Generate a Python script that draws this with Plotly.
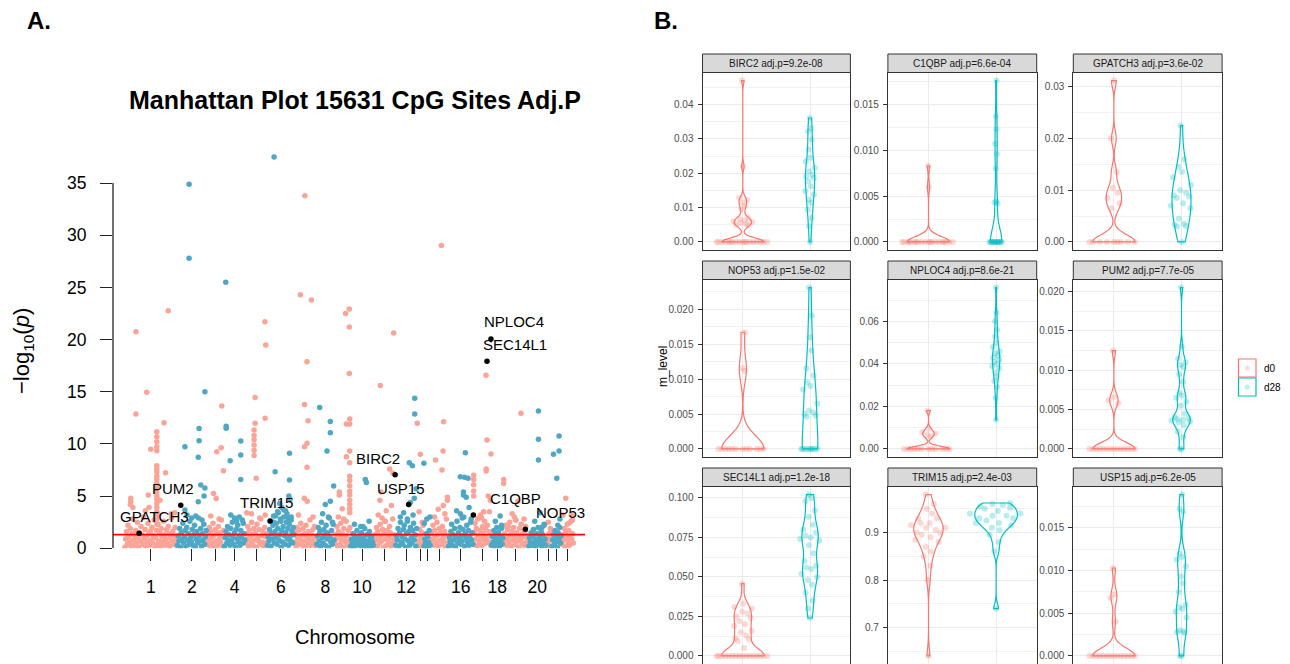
import numpy as np
import plotly.graph_objects as go

# the page body adds an 8px offset; the figure is laid out in reference-pixel coordinates
OFF = 8
W, H = 1290 - OFF, 664 - OFF
def fx(p): return (p - OFF) / W
def fy(p): return 1 - (p - OFF) / H

FONT = "Liberation Sans, Arial, Helvetica, sans-serif"

# ================= Panel A data =================
chrom_len_mb = [252, 142, 84, 101, 106, 130, 106, 86, 77, 112, 104, 104, 32, 32, 86, 120, 86, 58, 121, 85, 26, 48, 58]
chrom_tick_text = ["1", "2", "", "4", "", "6", "", "8", "", "10", "", "12", "", "", "", "16", "", "18", "", "20", "", "", ""]
sig_p = 0.05

# significant / visible individual sites per chromosome: "pos_mb/-log10p"
top_hits = [
    "55/20.75 55/12.86 107/14.94 210/22.76 190/12.03 126/9.48 114/5.1 197/7.24 155/11.17 155/10.7 155/10.2 155/9.73 155/9.35 155/7.9 155/7.6 155/7.3 155/6.9 155/6.6 155/6.2 155/5.8 155/5.4 155/5.0 155/4.7 155/4.3 155/3.9 155/3.5 155/3.1 155/2.8 155/2.3 30/4.8 30/4.5 28/4.2 40/3.9 100/3.6 118/3.9 170/4.6 160/3.3 226/2.9 240/3.4",
    "58/34.87 58/27.8 134/15.0 106/11.49 106/10.31 102/8.72 38/9.73 114/6.06 134/5.77 130/5.0 102/4.47 38/3.66 48/3.2 70/2.9 90/3.1 120/2.7",
    "73/13.63 70/9.64 49/9.26 81/7.44 33/5.26 46/4.78 20/3.1 60/2.8",
    "8/25.5 10/11.7 10/11.5 80/10.28 80/8.94 29/8.4 80/6.6 32/3.2 73/3.0 92/2.4 50/2.9 60/2.6",
    "95/21.7 99/19.47 48/14.46 96/12.45 48/11.97 43/11.33 43/10.8 43/10.4 43/9.9 43/9.4 43/8.9 53/6.7 8/3.41 96/3.19 70/2.9 30/3.3",
    "33/37.5 38/7.34 107/9.1 107/6.54 104/5.0 110/4.7 60/4.3 70/3.9 88/3.6 50/3.5 95/3.3 40/3.1 80/3.0 100/2.9 115/2.7 66/2.6 30/2.5",
    "51/33.77 29/24.3 82/23.78 61/17.88 49/13.79 66/12.22 61/10.06 49/9.73 61/7.76 48/4.8 62/4.5 20/3.2 90/3.0",
    "16/13.5 67/12.16 67/11.07 51/9.32 83/5.97 67/4.5 43/4.2 58/3.0 77/2.5 30/3.3",
    "54/22.5 72/22.92 72/21.2 72/16.76 58/11.9 74/11.9 74/12.4 74/9.32 58/8.78 74/8.2 74/6.9 74/6.5 74/6.0 74/5.5 74/5.1 74/4.6 74/4.2 74/3.8 74/3.4 24/5.4 24/5.1 19/3.0 38/3.8 45/2.8",
    "72/6.6 77/6.3 50/2.1 60/2.1 90/2.6 20/2.3",
    "96/20.62 32/15.6 77/7.6 93/7.2 22/3.2 40/2.9 56/2.6 35/5.4 30/4.6 60/3.6 85/4.1",
    "93/14.37 93/12.86 67/8.2 82/7.9 91/4.79 72/4.4 24/3.0 58/2.6 100/5.7 40/3.4 85/3.2",
    "1/11.97 16/9.0 10/3.5 25/2.5",
    "1/8.14 30/3.0 3/2.4 15/2.8",
    "53/29.02 64/12.13 61/9.32 25/8.46 56/7.5 38/3.75 62/4.1 82/4.9 82/4.6 70/3.3 20/3.0",
    "82/9.16 58/6.86 78/6.8 95/6.7 73/5.4 73/5.1 86/4.9 58/3.3 67/2.9 40/3.6 100/3.9 110/2.8",
    "61/16.57 66/10.37 85/9.03 62/7.6 62/7.4 2/7.0 2/6.6 2/6.1 72/5.0 82/4.6 2/5.5 2/5.0 30/3.0 50/3.5 40/2.9",
    "43/3.1 20/2.6 50/2.2",
    "85/12.93 2/6.6 2/6.2 43/3.3 53/3.0 14/2.1 24/2.1 70/4.5 100/2.8 60/2.7",
    "48/13.15 48/10.44 48/8.46 56/3.4 64/2.0 30/2.6 75/2.3",
    "10/2.5 20/1.9",
    "36/10.76 36/9.32 9/9.0 25/6.7 30/2.2 40/2.8",
    "20/4.79 7/3.2 47/3.2 35/2.4 52/2.7",
]

# dense background band of non-significant sites (in genomic order)
band_logp = [
    "0.1 0.9 1.6 0.4 2.2 1.1 0.6 1.9 0.2 1.4 2.8 0.8 0.3 1.2 1.7 0.5 2.5 1.0 0.1 1.5 0.7 2.1 1.3 0.4 3.0 0.9 1.8 0.2 1.1 0.6 2.4 1.4 0.3 1.6 0.8 2.0 0.5 1.2 2.7 0.1 1.0 1.7 0.4 2.3 0.7 1.5 0.2 1.9 1.1 0.6 2.6 1.3 0.3 0.9 1.8 0.5 2.1 1.4 0.2 1.0 3.3 0.7 1.6 0.4 1.2 2.0 0.8 0.3",
    "0.3 1.2 0.7 1.9 0.1 1.5 0.9 2.4 0.5 1.1 1.7 0.2 2.0 0.8 1.4 0.4 2.6 1.0 0.6 1.8 0.3 1.3 2.2 0.1 0.9 1.6 0.5 2.9 1.2 0.7 1.9 0.2 1.4 0.8 2.3 0.4 1.1 1.7",
    "0.4 1.3 0.8 2.0 0.2 1.6 1.0 0.5 2.4 1.2 0.1 1.8 0.7 1.4 0.3 2.1 0.9 1.5 0.6 2.7 1.1 0.2 1.7",
    "0.2 1.0 1.6 0.5 2.1 0.8 1.3 0.3 1.9 0.7 2.5 1.1 0.4 1.5 0.1 1.8 0.9 2.2 0.6 1.2 0.3 1.7 1.0 2.7 0.5 1.4 0.8",
    "0.5 1.4 0.9 2.1 0.2 1.7 1.1 0.6 2.5 1.3 0.3 1.9 0.8 1.5 0.1 2.3 1.0 0.7 1.8 0.4 2.8 1.2 0.6 1.6 0.2 2.0 1.1 0.5 1.4",
    "0.3 1.1 0.7 1.8 2.6 0.2 1.4 0.9 2.2 3.1 0.5 1.6 1.0 2.4 0.4 1.9 3.4 0.8 1.3 2.8 0.1 1.7 0.6 2.1 3.7 1.2 0.4 1.5 2.5 0.9 1.9 0.3 2.3 1.1 0.7 3.0 1.6 0.5 2.0 1.3",
    "0.6 1.5 0.2 2.0 1.0 0.4 1.7 0.8 2.4 1.2 0.3 1.9 0.7 1.4 0.1 2.2 1.1 0.5 1.6 0.9 2.7 0.3 1.3 0.8 1.8 0.5 2.1 1.0 0.2",
    "0.4 1.2 2.0 0.7 1.6 0.2 2.5 1.0 0.5 1.8 1.3 0.3 2.2 0.9 1.5 0.1 2.9 1.1 0.6 1.7 0.4 2.3 0.8",
    "0.5 1.3 0.9 2.1 0.2 1.6 1.1 0.4 2.4 0.8 1.4 0.1 1.9 1.0 0.6 2.6 1.2 0.3 1.7 0.7 2.0",
    "0.2 0.9 0.5 1.4 0.1 1.1 0.7 0.3 1.7 0.9 0.4 1.2 0.6 0.2 1.5 0.8 0.3 1.0 1.9 0.5 0.1 1.3 0.7 0.4 1.6 0.9 0.2 1.1 0.6 0.3",
    "0.4 1.3 0.8 2.0 0.2 1.6 1.0 0.5 2.3 1.2 0.7 1.8 0.1 1.4 2.6 0.9 0.3 1.7 1.1 0.6 2.1 1.5 0.2 1.0 2.8 0.5 1.3 0.8",
    "0.3 1.2 0.8 1.9 0.2 1.5 2.5 0.6 1.1 0.4 1.8 2.2 0.9 0.1 1.4 2.8 0.7 1.6 0.3 2.0 1.0 0.5 1.7 2.4 0.8 1.3 0.2 1.9",
    "0.3 1.2 0.7 1.8 0.2 1.0 1.5 0.5 2.2",
    "0.2 0.9 0.5 1.4 0.1 1.1 0.6 1.7 0.3",
    "0.5 1.4 0.9 2.2 0.3 1.7 1.1 0.6 2.5 1.3 0.2 1.9 0.8 1.5 0.4 2.1 1.0 0.7 1.6 0.1 2.8 1.2 0.5",
    "0.2 1.0 0.6 1.6 2.3 0.3 1.3 0.8 1.9 0.1 1.1 2.6 0.5 1.5 0.9 2.0 0.4 1.2 0.7 1.8 3.0 0.2 1.4 1.0 2.2 0.6 1.7 0.3 1.1 2.5 0.8 1.5 0.4",
    "0.4 1.5 2.4 0.9 1.9 0.2 2.8 1.2 0.6 1.7 3.2 1.0 0.3 2.1 1.4 0.8 2.6 1.8 0.5 1.1 2.2 0.7 1.6 3.5 1.3 0.3",
    "0.3 1.1 0.6 1.7 0.2 1.3 0.9 2.0 0.5 1.5 0.1 1.2 0.8 1.9 0.4 1.0",
    "0.5 1.4 0.9 2.2 0.3 1.8 1.1 0.6 2.5 1.3 0.2 1.6 0.8 2.0 1.0 0.4 2.7 1.5 0.7 1.2 0.1 1.9 0.9 2.3 0.5 1.4 1.1 0.3 1.7 2.1 0.6 1.2 0.8",
    "0.2 1.0 0.6 1.5 0.3 1.2 1.8 0.5 0.9 0.1 1.4 0.7 2.0 0.4 1.1 0.8 1.6 0.2 1.3 0.6 2.2 0.9 0.3",
    "0.3 1.0 0.6 1.4 0.2 0.9 1.7",
    "0.2 0.8 1.3 0.4 1.7 0.6 1.1 0.1 1.5 0.9 2.0 0.5 1.2",
    "0.4 1.3 0.8 1.9 0.2 1.5 1.0 2.3 0.6 1.7 0.3 1.2 2.6 0.9 1.4 0.5",
]

# ================= Genes (shared by A and B) =================
genes = ["BIRC2", "C1QBP", "GPATCH3", "NOP53", "NPLOC4", "PUM2", "SEC14L1", "TRIM15", "USP15"]
gene_adj_p = [9.2e-08, 6.6e-04, 3.6e-02, 1.5e-02, 8.6e-21, 7.7e-05, 1.2e-18, 2.4e-03, 6.2e-05]
gene_chr = [11, 17, 1, 19, 17, 2, 17, 6, 12]
gene_pos_mb = [103, 0.5, 70, 106, 85, 18, 66, 14, 64]

# ================= Panel B data (methylation level per sample) =================
birc2_d0 = [0, 0, 0, 0, 0, 0, 0, 0, 0, 0, 0, 0, 0, 0, 0, 0, 0, 0,
            0.0048, 0.005, 0.0052, 0.0055, 0.0058, 0.006, 0.0063, 0.0066, 0.007, 0.0095, 0.0105, 0.0115, 0.0122, 0.0128, 0.022, 0.047]
birc2_d28 = [0.0, 0.0046, 0.007, 0.0094, 0.0114, 0.0123, 0.0138, 0.0148, 0.0162, 0.0177, 0.0186, 0.0191, 0.0196, 0.0206, 0.0216, 0.0235, 0.0245, 0.0269, 0.0298, 0.0322, 0.0332, 0.0361]
c1qbp_d0 = [0, 0, 0, 0, 0, 0, 0, 0, 0, 0, 0, 0, 0, 0, 0, 0, 0, 0, 0, 0, 0.006, 0.0083]
c1qbp_d28 = [0, 0, 0, 0, 0, 0, 0, 0, 0, 0, 0, 0, 0, 0, 0.0042, 0.0043, 0.0044, 0.008, 0.0096, 0.0107, 0.0123, 0.0137, 0.0176]
gpatch3_d0 = [0, 0, 0, 0, 0, 0, 0, 0, 0, 0.0065, 0.0075, 0.0085, 0.0095, 0.0105, 0.0135, 0.02, 0.0312]
gpatch3_d28 = [0.0, 0.003, 0.0031, 0.0033, 0.0035, 0.0045, 0.0065, 0.007, 0.0075, 0.0085, 0.0088, 0.009, 0.0095, 0.01, 0.011, 0.0125, 0.0135, 0.0145, 0.016, 0.0225]
nop53_d0 = [0, 0, 0, 0, 0, 0, 0, 0, 0, 0, 0, 0, 0.0112, 0.0116, 0.0167]
nop53_d28 = [0, 0, 0, 0, 0, 0, 0, 0, 0, 0.0046, 0.0048, 0.005, 0.0052, 0.0055, 0.0065, 0.0085, 0.009, 0.0095, 0.0105, 0.0115, 0.0141, 0.016, 0.0191, 0.0231]
nploc4_d0 = [0, 0, 0, 0, 0, 0, 0, 0, 0, 0, 0, 0, 0.0058, 0.0065, 0.0072, 0.008, 0.0095, 0.018]
nploc4_d28 = [0.0137, 0.024, 0.029, 0.032, 0.034, 0.036, 0.038, 0.039, 0.04, 0.041, 0.042, 0.043, 0.044, 0.045, 0.046, 0.048, 0.05, 0.053, 0.056, 0.06, 0.064, 0.0759]
pum2_d0 = [0, 0, 0, 0, 0, 0, 0, 0, 0, 0, 0, 0, 0, 0, 0.0058, 0.0062, 0.0066, 0.0125]
pum2_d28 = [0, 0, 0.0015, 0.0022, 0.003, 0.0034, 0.0035, 0.0036, 0.0037, 0.0038, 0.0039, 0.004, 0.0045, 0.0055, 0.006, 0.0065, 0.0068, 0.0071, 0.0085, 0.0095, 0.0104, 0.0107, 0.011, 0.0115, 0.013, 0.0205]
sec14l1_d0 = [0, 0, 0, 0, 0, 0, 0, 0, 0, 0, 0, 0, 0, 0, 0, 0,
              0.005, 0.0095, 0.0105, 0.011, 0.013, 0.015, 0.016, 0.019, 0.02, 0.022, 0.024, 0.025, 0.027, 0.028, 0.03, 0.031, 0.033, 0.0457]
sec14l1_d28 = [0.024, 0.03, 0.035, 0.04, 0.045, 0.048, 0.05, 0.052, 0.055, 0.056, 0.057, 0.06, 0.065, 0.07, 0.073, 0.074, 0.075, 0.076, 0.078, 0.08, 0.083, 0.088, 0.092, 0.098, 0.1, 0.1021]
trim15_d0 = [0.6406, 0.8, 0.83, 0.85, 0.86, 0.87, 0.88, 0.885, 0.89, 0.895, 0.9, 0.9, 0.905, 0.91, 0.91, 0.915, 0.92, 0.92, 0.93, 0.93, 0.94, 0.95, 0.96, 0.9797]
trim15_d28 = [0.7399, 0.86, 0.88, 0.895, 0.905, 0.91, 0.915, 0.92, 0.92, 0.925, 0.93, 0.93, 0.935, 0.935, 0.94, 0.94, 0.945, 0.95, 0.952, 0.955, 0.958, 0.96, 0.962]
usp15_d0 = [0, 0, 0, 0, 0, 0, 0, 0, 0, 0, 0, 0, 0, 0, 0.004, 0.0068, 0.0072, 0.0103]
usp15_d28 = [0.0, 0.0, 0.0027, 0.0028, 0.0029, 0.003, 0.0045, 0.0052, 0.0055, 0.0057, 0.006, 0.0075, 0.0085, 0.0093, 0.0105, 0.0113, 0.0116, 0.012, 0.0169, 0.0172, 0.0189]

group_names = ["d0", "d28"]
panel_data = [
    (birc2_d0, birc2_d28), (c1qbp_d0, c1qbp_d28), (gpatch3_d0, gpatch3_d28),
    (nop53_d0, nop53_d28), (nploc4_d0, nploc4_d28), (pum2_d0, pum2_d28),
    (sec14l1_d0, sec14l1_d28), (trim15_d0, trim15_d28), (usp15_d0, usp15_d28),
]
tick_step = [0.01, 0.005, 0.01, 0.005, 0.02, 0.005, 0.025, 0.1, 0.005]
tick_dec = [2, 3, 2, 3, 2, 3, 3, 1, 3]

# ================= Styles =================
PINK = "#FBA396"
BLUE = "#4EA8C5"
GROUP_COL = ["#F8766D", "#00BFC4"]
GROUP_RGBA = ["rgba(248,118,109,{a})", "rgba(0,191,196,{a})"]
# kernel bandwidth (smoothing) per panel violin (d0, d28)
kde_bw = [(0.0011, 0.0036), (0.0006, 0.0015), (0.0014, 0.0032), (0.0019, 0.0028), (0.0012, 0.004),
          (0.0008, 0.0008), (0.0045, 0.007), (0.018, 0.011), (0.0009, 0.0012)]
label_shift = {"BIRC2": (-17, 16), "C1QBP": (42, 17), "GPATCH3": (15, 17), "NOP53": (35, 17),
               "NPLOC4": (23, 17), "PUM2": (-8, 17), "SEC14L1": (28, 17), "TRIM15": (-4, 18), "USP15": (-8, 16)}
TICK_STYLE = dict(ticks="outside", ticklen=12, tickwidth=1.3, tickcolor="#222222")

fig = go.Figure()
shapes = []
annotations = []

# ================= Panel A: Manhattan =================
lens = np.array(chrom_len_mb, float)
starts = np.concatenate([[0.0], np.cumsum(lens)[:-1]])
centers = starts + lens / 2

for parity, col in ((1, PINK), (0, BLUE)):
    xs, ys = [], []
    for i in range(len(chrom_len_mb)):
        if (i + 1) % 2 != parity:
            continue
        band = [float(v) for v in band_logp[i].split()]
        n = len(band)
        xs += list(starts[i] + (np.arange(n) + 0.5) / n * lens[i])
        ys += band
        for tok in top_hits[i].split():
            p, l = tok.split("/")
            xs.append(starts[i] + float(p))
            ys.append(float(l))
    fig.add_trace(go.Scatter(x=xs, y=ys, mode="markers", xaxis="x", yaxis="y",
                             marker=dict(color=col, size=5.5, line=dict(width=0)),
                             showlegend=False, hoverinfo="skip"))

x_range = [-55.2, 2210.4]
thr = -np.log10(sig_p)
fig.add_trace(go.Scatter(x=x_range, y=[thr, thr], mode="lines", xaxis="x", yaxis="y",
                         line=dict(color="#FF0000", width=1.8), showlegend=False, hoverinfo="skip"))

g_x = [starts[c - 1] + p for c, p in zip(gene_chr, gene_pos_mb)]
g_y = [-np.log10(p) for p in gene_adj_p]
fig.add_trace(go.Scatter(x=g_x, y=g_y, mode="markers", xaxis="x", yaxis="y",
                         marker=dict(color="black", size=5.5), showlegend=False, hoverinfo="skip"))
for g, xv, yv in zip(genes, g_x, g_y):
    dx, dy = label_shift[g]
    annotations.append(dict(x=xv, y=yv, xref="x", yref="y", text=g, showarrow=False,
                            xshift=dx, yshift=dy, xanchor="center", yanchor="middle",
                            font=dict(size=15, color="black", family=FONT)))

# tick marks for every chromosome on an overlaid axis (no labels)
fig.add_trace(go.Scatter(x=[], y=[], xaxis="x11", yaxis="y", showlegend=False, hoverinfo="skip"))

shapes.append(dict(type="line", xref="paper", yref="y", x0=fx(113), x1=fx(113), y0=0, y1=35,
                   line=dict(color="#222222", width=1.3)))

lab_idx = [i for i, t in enumerate(chrom_tick_text) if t]
layout_axes = {}
layout_axes["xaxis"] = dict(domain=[fx(113), fx(585)], range=x_range, anchor="y",
                            tickvals=[centers[i] for i in lab_idx],
                            ticktext=[chrom_tick_text[i] for i in lab_idx], **TICK_STYLE,
                            showline=False, showgrid=False, zeroline=False,
                            tickfont=dict(size=17.5, color="black"),
                            ticklabelstandoff=11, automargin=False, fixedrange=True)
layout_axes["xaxis11"] = dict(domain=[fx(113), fx(585)], range=x_range, anchor="y", overlaying="x",
                              side="bottom", tickvals=list(centers), showticklabels=False,
                              **TICK_STYLE, showline=False, showgrid=False, zeroline=False,
                              automargin=False, fixedrange=True)
layout_axes["yaxis"] = dict(domain=[fy(548.3), fy(151.7)], range=[0, 38], anchor="x",
                            tickvals=[0, 5, 10, 15, 20, 25, 30, 35], **TICK_STYLE,
                            showline=False, showgrid=False,
                            zeroline=False, tickfont=dict(size=17.5, color="black"),
                            ticklabelstandoff=10, automargin=False, fixedrange=True)

annotations += [
    dict(x=fx(25), y=fy(20.5), xref="paper", yref="paper", text="<b>A.</b>", showarrow=False,
         xanchor="left", yanchor="middle", height=22, valign="middle",
         font=dict(size=24, color="black", family=FONT)),
    dict(x=fx(652), y=fy(20), xref="paper", yref="paper", text="<b>B.</b>", showarrow=False,
         xanchor="left", yanchor="middle", height=22, valign="middle",
         font=dict(size=24, color="black", family=FONT)),
    dict(x=fx(355), y=fy(100), xref="paper", yref="paper",
         text="<b>Manhattan Plot 15631 CpG Sites Adj.P</b>", showarrow=False,
         xanchor="center", yanchor="middle", font=dict(size=25, color="black", family=FONT)),
    dict(x=fx(355), y=fy(637), xref="paper", yref="paper", text="Chromosome", showarrow=False,
         xanchor="center", yanchor="middle", font=dict(size=20, color="black", family=FONT)),
    dict(x=fx(23), y=fy(351), xref="paper", yref="paper",
         text="\u2212log<sub>10</sub>(<i>p</i>)", showarrow=False, textangle=-90,
         xanchor="center", yanchor="middle", font=dict(size=22, color="black", family=FONT)),
]

# ================= Panel B: violins with sina-style points =================
def kde(vals, bw, ys):
    v = np.asarray(vals, float)
    z = (np.asarray(ys, float)[:, None] - v[None, :]) / bw
    return np.exp(-0.5 * z * z).sum(axis=1) / (len(v) * bw * np.sqrt(2 * np.pi))

def van_der_corput(n):
    q, denom = 0.0, 1.0
    while n:
        denom *= 2
        n, rem = divmod(n, 2)
        q += rem / denom
    return q

cols_px = [(702.5, 850.4), (887.9, 1036.7), (1073.3, 1222.1)]
strip_top = [54, 261, 468]
strip_h = 18.5
row_bottom = [250, 457, 664]
X_RANGE_B = [0.4, 2.6]
HALF_W = 0.45

for k, g in enumerate(genes):
    r, c = divmod(k, 3)
    idx = k + 2
    xa, ya = f"x{idx}", f"y{idx}"
    c0, c1 = cols_px[c]
    top = strip_top[r] + strip_h
    bot = row_bottom[r]
    groups = panel_data[k]
    allv = np.array(list(groups[0]) + list(groups[1]), float)
    vmin, vmax = allv.min(), allv.max()
    span = vmax - vmin
    yr = [vmin - 0.05 * span, vmax + 0.05 * span]

    pmax = max(kde(v, bw, np.linspace(min(v), max(v), 600)).max() for v, bw in zip(groups, kde_bw[k]))

    for gi, vals in enumerate(groups):
        fig.add_trace(go.Violin(y=vals, x0=gi + 1, xaxis=xa, yaxis=ya,
                                scalegroup=f"p{idx}", scalemode="width", spanmode="hard",
                                bandwidth=kde_bw[k][gi], points=False,
                                line=dict(color=GROUP_COL[gi], width=1.2),
                                fillcolor="rgba(255,255,255,0)", showlegend=False,
                                hoverinfo="skip", side="both"))
    for gi, vals in enumerate(groups):
        v = np.asarray(vals, float)
        halfw = HALF_W * kde(v, kde_bw[k][gi], v) / pmax
        order = np.argsort(v, kind="stable")
        offs = np.zeros(len(v))
        for rank, i in enumerate(order):
            offs[i] = (2 * van_der_corput(rank + 1) - 1) * halfw[i] * 0.92
        fig.add_trace(go.Scatter(x=list(gi + 1 + offs), y=vals, mode="markers", xaxis=xa, yaxis=ya,
                                 marker=dict(color=GROUP_COL[gi], size=6, opacity=0.28,
                                             line=dict(width=0)),
                                 showlegend=False, hoverinfo="skip"))

    step = tick_step[k]
    layout_axes[f"xaxis{idx}"] = dict(domain=[fx(c0), fx(c1)], range=X_RANGE_B, anchor=ya,
                                      tickvals=[1, 2], showticklabels=False, ticks="",
                                      showgrid=True, gridcolor="#EBEBEB", gridwidth=1,
                                      showline=True, mirror=True, linecolor="#333333", linewidth=1,
                                      zeroline=False, automargin=False, fixedrange=True)
    layout_axes[f"yaxis{idx}"] = dict(domain=[max(0.0, fy(bot)), fy(top)], range=yr, anchor=xa,
                                      tick0=0, dtick=step, tickformat=f".{tick_dec[k]}f",
                                      ticks="outside", ticklen=4, tickwidth=1, tickcolor="#333333",
                                      tickfont=dict(size=10, color="#4D4D4D", family=FONT),
                                      showgrid=True, gridcolor="#EBEBEB", gridwidth=1,
                                      minor=dict(tick0=0, dtick=step / 2, showgrid=True,
                                                 gridcolor="#F2F2F2", gridwidth=0.6, ticks=""),
                                      showline=True, mirror=True, linecolor="#333333", linewidth=1,
                                      zeroline=False, automargin=False, fixedrange=True,
                                      ticklabelstandoff=2)
    shapes.append(dict(type="rect", xref="paper", yref="paper", x0=fx(c0), x1=fx(c1),
                       y0=fy(top), y1=fy(strip_top[r]), fillcolor="#D9D9D9",
                       line=dict(color="#333333", width=1), layer="above"))
    annotations.append(dict(x=fx((c0 + c1) / 2), y=fy(strip_top[r] + strip_h / 2), xref="paper",
                            yref="paper", text=f"{g} adj.p={gene_adj_p[k]:.1e}", showarrow=False,
                            xanchor="center", yanchor="middle",
                            font=dict(size=10, color="#1A1A1A", family=FONT)))

annotations.append(dict(x=fx(663), y=fy(367), xref="paper", yref="paper", text="m_level",
                        showarrow=False, textangle=-90, xanchor="center", yanchor="middle",
                        font=dict(size=12, color="black", family=FONT)))

leg_y = [(359, 377), (378, 396)]
for gi, name in enumerate(group_names):
    y0, y1 = leg_y[gi]
    shapes.append(dict(type="rect", xref="paper", yref="paper", x0=fx(1238.5), x1=fx(1256),
                       y0=fy(y1), y1=fy(y0), fillcolor="white",
                       line=dict(color=GROUP_COL[gi], width=1.2)))
    cx, cy = (1238.5 + 1256) / 2, (y0 + y1) / 2
    shapes.append(dict(type="circle", xref="paper", yref="paper", x0=fx(cx - 2.6), x1=fx(cx + 2.6),
                       y0=fy(cy + 2.6), y1=fy(cy - 2.6),
                       fillcolor=GROUP_RGBA[gi].format(a=0.25), line=dict(width=0)))
    annotations.append(dict(x=fx(1262), y=fy(cy), xref="paper", yref="paper", text=name,
                            showarrow=False, xanchor="left", yanchor="middle",
                            font=dict(size=10, color="black", family=FONT)))

fig.update_layout(width=W, height=H, margin=dict(l=0, r=0, t=0, b=0, autoexpand=False),
                  paper_bgcolor="white", plot_bgcolor="white", showlegend=False,
                  hovermode=False, font=dict(family=FONT), shapes=shapes,
                  annotations=annotations, violingap=0.1, violinmode="overlay", **layout_axes)

fig.write_html("out.html")
